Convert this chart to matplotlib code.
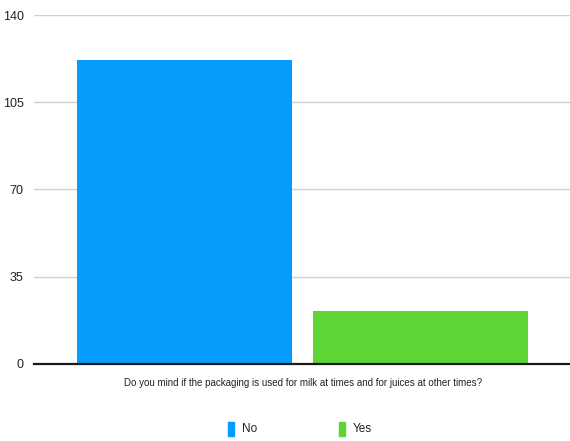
import matplotlib
matplotlib.use("Agg")
import matplotlib.pyplot as plt

series = ["No", "Yes"]
values = [122, 21]
colors = ["#069cfb", "#5cd535"]
yticks = [0, 35, 70, 105, 140]
question = "Do you mind if the packaging is used for milk at times and for juices at other times?"

plt.rcParams["font.family"] = ["Liberation Sans", "DejaVu Sans"]

fig = plt.figure(figsize=(5.70, 4.41), dpi=100)
ax = fig.add_axes([34 / 570, 1 - 363.7 / 441, 1 - 34 / 570, (363.7 - 15) / 441])

positions = list(range(len(series)))
ax.bar(positions, values, width=0.909, color=colors, zorder=3)

ax.set_ylim(0, 140)
ax.set_xlim(-0.636, 1.631)
ax.set_yticks(yticks)
ax.set_yticklabels([str(t) for t in yticks], fontsize=9, color="#222222")
ax.set_xticks([])
ax.tick_params(axis="y", length=0, pad=7.5)
ax.yaxis.grid(True, color="#d0d0d0", linewidth=1, zorder=0)
for s in ["top", "right", "left"]:
    ax.spines[s].set_visible(False)
ax.spines["bottom"].set_color("#1a1a1a")
ax.spines["bottom"].set_linewidth(1.6)
ax.spines["bottom"].set_zorder(4)

fig.text(303 / 570, 1 - 383 / 441, question, ha="center", va="center",
         fontsize=7.0, color="#222222")

# legend drawn as colored squares with labels below the chart
leg_y = 1 - 429 / 441
for x0, lab, c in [(228, "No", colors[0]), (339, "Yes", colors[1])]:
    fig.patches.append(plt.Rectangle((x0 / 570, leg_y - 7 / 441), 6 / 570, 14 / 441,
                                     color=c, transform=fig.transFigure, figure=fig))
    fig.text((x0 + 14) / 570, leg_y, lab, ha="left", va="center", fontsize=8.5,
             color="#222222")

fig.savefig("out.png", dpi=100)
